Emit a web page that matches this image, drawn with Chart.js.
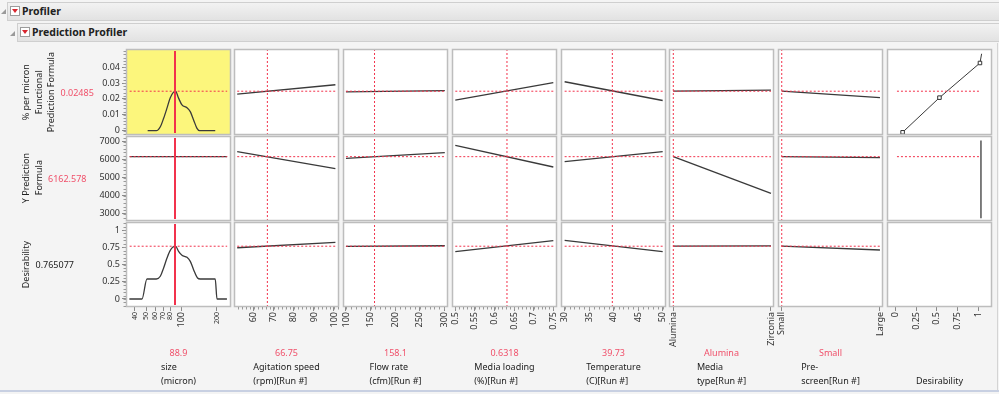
<!DOCTYPE html>
<html>
<head>
<meta charset="utf-8">
<script src="https://cdn.jsdelivr.net/npm/chart.js@4.4.1/dist/chart.umd.min.js"></script>
<style>
  body { margin: 0; width: 999px; height: 394px; background: #f4f4f4; position: relative; overflow: hidden;
         font-family: "Noto Sans", "DejaVu Sans", sans-serif; font-size: 9px; color: #222; }
  .bar { position: absolute; right: 0; height: 17px; background: linear-gradient(#f2f2f2, #e2e2e2);
         border: 1px solid #cfcfcf; border-right: none; font-weight: bold; font-size: 10.5px; line-height: 17px; }
  .tri { position: absolute; width: 0; height: 0; border-left: 5px solid transparent; border-bottom: 5px solid #9a9a9a; }
  .dd { position: absolute; width: 8px; height: 8px; background: #fff; border: 1px solid #9c9c9c; }
  .dd::after { content: ""; position: absolute; left: 1px; top: 2px; border-left: 3px solid transparent;
               border-right: 3px solid transparent; border-top: 4px solid #d8262f; }
  canvas { position: absolute; }
  .rowlab { position: absolute; left: 20px; display: flex; align-items: center; }
  .rowlab .names { writing-mode: vertical-rl; transform: rotate(180deg); text-align: center; line-height: 12.5px; white-space: nowrap; }
  .rowlab .val { margin-left: 3px; }
  .collab { position: absolute; top: 346px; text-align: center; line-height: 14px; }
  .collab .val { color: #f0506a; height: 14px; }
  .collab .names { display: inline-block; text-align: left; white-space: nowrap; }
  .red { color: #f0506a; }
  .frame { position: absolute; left: 0; right: 0; top: 390px; height: 2px; background: #c8d0e2; }
  .rframe { position: absolute; left: 997px; top: 43px; width: 1px; height: 347px; background: #d4d4d4; }
</style>
</head>
<body>
<div class="tri" style="left:1px;top:9px"></div>
<div class="bar" style="left:7px;top:2px"><span style="margin-left:14px">Profiler</span></div>
<div class="dd" style="left:10px;top:6px"></div>
<div class="tri" style="left:10px;top:31px"></div>
<div class="bar" style="left:17px;top:23px"><span style="margin-left:14px">Prediction Profiler</span></div>
<div class="dd" style="left:20px;top:27px"></div>
<div class="rframe"></div>
<div class="frame"></div>

<script>
// factors (columns)
const factorNames = [['size', '(micron)'], ['Agitation speed', '(rpm)[Run #]'], ['Flow rate', '(cfm)[Run #]'],
  ['Media loading', '(%)[Run #]'], ['Temperature', '(C)[Run #]'], ['Media', 'type[Run #]'],
  ['Pre-', 'screen[Run #]'], ['', 'Desirability']];
const factorCurrentText = ['88.9', '66.75', '158.1', '0.6318', '39.73', 'Alumina', 'Small', ''];
const factorCurrent = [88.9, 66.75, 158.1, 0.6318, 39.73, 0, 0];
const factorSpan = [[36.3, 244], [51.7, 100.7], [100, 301], [0.5, 0.75], [30, 50], [0, 1], [0, 1]];
const xMin = [33.8, 50.1, 94, 0.4916, 29.26, -0.044, -0.038, -0.1];
const xMax = [263, 102.5, 307.5, 0.7594, 50.68, 1.031, 1.031, 1.165];
const xTicks = [[40, 50, 60, 70, 80, 100, 200], [60, 70, 80, 90, 100], [100, 150, 200, 250, 300],
  [0.5, 0.55, 0.6, 0.65, 0.7, 0.75], [30, 35, 40, 45, 50], [0, 1], [0, 1], [0, 0.25, 0.5, 0.75, 1]];
const xTickLabels = [['40', '50', '60', '70', '80', '100', '200'], ['60', '70', '80', '90', '100'],
  ['100', '150', '200', '250', '300'], ['0.5', '0.55', '0.6', '0.65', '0.7', '0.75'],
  ['30', '35', '40', '45', '50'], ['Alumina', 'Zirconia'], ['Small', 'Large'], ['0', '0.25', '0.5', '0.75', '1']];

// responses (rows)
const responseNames = [['% per micron', 'Functional', 'Prediction Formula'], ['Y Prediction', 'Formula'], ['Desirability']];
const responseCurrentText = ['0.02485', '6162.578', '0.765077'];
const responseCurrent = [0.02485, 6162.578, 0.765077];
const yMin = [-0.0027, 2608, -0.116];
const yMax = [0.0514, 7304, 1.116];
const yTicks = [[0, 0.01, 0.02, 0.03, 0.04], [3000, 4000, 5000, 6000, 7000], [0, 0.25, 0.5, 0.75, 1]];
const yTickLabels = [['0', '0.01', '0.02', '0.03', '0.04'], ['3000', '4000', '5000', '6000', '7000'], ['0', '0.25', '0.5', '0.75', '1']];

// size profiles
const sizePct = [51.6, 61.1, 66.1, 70.5, 75.3, 80.3, 88.9, 94.4, 100.9, 111.3, 118.7, 126.6, 135.3, 142.3, 193.3];
const pctPerMicron = [0, 0, 0.0025, 0.0078, 0.0142, 0.0208, 0.02485, 0.0205, 0.0162, 0.0145, 0.012, 0.0068, 0.0015, 0, 0];
const sizeDes = [36.1, 46.2, 50.9, 61.1, 66.1, 70.5, 75.3, 80.3, 88.9, 94.4, 100.9, 111.3, 118.7, 126.6, 136.8, 144.2, 193.3, 200, 243];
const sizeDesirability = [0, 0, 0.29, 0.29, 0.33, 0.45, 0.594, 0.706, 0.765, 0.69, 0.633, 0.604, 0.546, 0.425, 0.304, 0.29, 0.29, 0, 0];

// linear profiles, columns 2..7, value at start and end of factor span
const pctEnds = [[0.023, 0.0289], [0.02445, 0.02527], [0.0192, 0.0303], [0.0308, 0.019], [0.0249, 0.0255], [0.0249, 0.0208]];
const yPredEnds = [[6436, 5497], [6072, 6381], [6790, 5591], [5884, 6436], [6162, 4138], [6162, 6110]];
const desirEnds = [[0.743, 0.821], [0.763, 0.772], [0.686, 0.845], [0.851, 0.686], [0.765, 0.77], [0.765, 0.71]];

// desirability column
const desPctX = [0.088, 0.532, 1.02, 1.04];
const desPctY = [-0.001, 0.0208, 0.0426, 0.0484];
const desYPredX = [1.032, 1.032];
const desYPredY = [2760, 7050];
const desRefSpan = [0.02, 1.032];

const FONT = '"Noto Sans", "DejaVu Sans", sans-serif';
const RED = '#f2324c';
const INK = '#3a3a3a';
const colLeft = [126, 234, 343, 452, 561, 669, 778, 887];
const colW = 105;
const rowTop = [49, 136, 222];
const rowH = [86, 85, 85];

function pts(xs, ys) { return xs.map((x, i) => ({ x: x, y: ys[i] })); }

const panelPlugin = {
  id: 'panel',
  beforeDraw(chart, args, opts) {
    const a = chart.chartArea, ctx = chart.ctx;
    ctx.save();
    ctx.fillStyle = opts.bg;
    ctx.fillRect(a.left, a.top, a.right - a.left, a.bottom - a.top);
    ctx.restore();
  },
  afterDatasetsDraw(chart, args, opts) {
    // solid crosshair for the selected factor
    if (opts.solidX == null) return;
    const a = chart.chartArea, ctx = chart.ctx;
    const px = Math.round(chart.scales.x.getPixelForValue(opts.solidX));
    ctx.save();
    ctx.strokeStyle = RED;
    ctx.lineWidth = 2;
    ctx.beginPath();
    ctx.moveTo(px, a.top + 2);
    ctx.lineTo(px, a.bottom - 2);
    ctx.stroke();
    ctx.restore();
  },
  afterDraw(chart) {
    const a = chart.chartArea, ctx = chart.ctx;
    ctx.save();
    ctx.strokeStyle = '#bdbdbd';
    ctx.lineWidth = 1.5;
    ctx.strokeRect(a.left + 0.5, a.top + 0.5, a.right - a.left - 1, a.bottom - a.top - 1);
    // minor ticks
    ctx.strokeStyle = '#9a9a9a';
    ctx.lineWidth = 1;
    Object.values(chart.scales).forEach(s => {
      if (!s.options.display || !s.options.minor) return;
      const t = s.ticks.map(k => k.value);
      const step = (t[1] - t[0]) / s.options.minor;
      for (let v = t[0] - step * Math.floor((t[0] - s.min) / step); v <= s.max; v += step) {
        const p = Math.round(s.getPixelForValue(v)) + 0.5;
        ctx.beginPath();
        if (s.isHorizontal()) { ctx.moveTo(p, a.bottom); ctx.lineTo(p, a.bottom + 2.5); }
        else { ctx.moveTo(a.left, p); ctx.lineTo(a.left - 2.5, p); }
        ctx.stroke();
      }
    });
    ctx.restore();
  }
};

function datasetsFor(r, c) {
  const ds = [];
  const curve = { borderColor: INK, borderWidth: 1.3, pointRadius: 0, showLine: true };
  if (c > 0 && c < 7) {
    ds.push({ data: pts([factorCurrent[c], factorCurrent[c]], [yMin[r], yMax[r]]), borderColor: RED,
      borderWidth: 1, borderDash: [2, 2], pointRadius: 0, showLine: true });
  }
  if (c < 7) {
    ds.push({ data: pts(factorSpan[c], [responseCurrent[r], responseCurrent[r]]), borderColor: RED,
      borderWidth: 1, borderDash: [2, 2], pointRadius: 0, showLine: true });
  } else if (r < 2) {
    ds.push({ data: pts(desRefSpan, [responseCurrent[r], responseCurrent[r]]), borderColor: RED,
      borderWidth: 1, borderDash: [2, 2], pointRadius: 0, showLine: true });
  }
  if (c === 0) {
    if (r === 0) ds.push(Object.assign({ data: pts(sizePct, pctPerMicron), cubicInterpolationMode: 'monotone' }, curve));
    if (r === 1) ds.push(Object.assign({ data: pts(factorSpan[0], [responseCurrent[1], responseCurrent[1]]) }, curve));
    if (r === 2) ds.push(Object.assign({ data: pts(sizeDes, sizeDesirability), cubicInterpolationMode: 'monotone' }, curve));
  } else if (c < 7) {
    const ends = [pctEnds, yPredEnds, desirEnds][r][c - 1];
    ds.push(Object.assign({ data: pts(factorSpan[c], ends) }, curve));
  } else {
    if (r === 0) ds.push(Object.assign({}, curve, {
      data: pts(desPctX, desPctY), borderWidth: 1, pointStyle: 'rect', pointRadius: [2.5, 2.5, 2.5, 0],
      pointBackgroundColor: '#fff', pointBorderColor: '#333', pointBorderWidth: 1 }));
    if (r === 1) ds.push(Object.assign({ data: pts(desYPredX, desYPredY) }, curve));
  }
  return ds;
}

function makePanel(r, c) {
  const extL = c === 0 ? 42 : 6, extR = 6, extT = 8, extB = r === 2 ? 62 : 8;
  const cv = document.createElement('canvas');
  cv.width = colW + extL + extR;
  cv.height = rowH[r] + extT + extB;
  cv.style.left = (colLeft[c] - extL) + 'px';
  cv.style.top = (rowTop[r] - extT) + 'px';
  document.body.appendChild(cv);

  new Chart(cv, {
    type: 'scatter',
    data: { datasets: datasetsFor(r, c) },
    options: {
      responsive: false, animation: false, events: [], devicePixelRatio: 1,
      layout: { padding: { left: c === 0 ? 0 : extL, right: extR, top: extT, bottom: r === 2 ? 0 : extB } },
      plugins: { legend: { display: false }, tooltip: { enabled: false },
        panel: { bg: (r === 0 && c === 0) ? '#fcf67c' : '#ffffff', solidX: c === 0 ? factorCurrent[0] : null } },
      scales: {
        x: {
          type: c === 0 ? 'logarithmic' : 'linear', min: xMin[c], max: xMax[c], display: r === 2,
          minor: (c >= 1 && c <= 4) ? 5 : 0,
          afterBuildTicks: s => { s.ticks = xTicks[c].map(v => ({ value: v })); },
          afterFit: s => { s.height = r === 2 ? 62 : 0; s.paddingLeft = 0; s.paddingRight = 0; },
          border: { display: false },
          grid: { drawOnChartArea: false, tickLength: 4, color: '#8a8a8a' },
          ticks: {
            autoSkip: false, minRotation: 90, maxRotation: 90, padding: 1, color: '#333',
            font: ctx => ({ family: FONT, size: (c === 0 && ctx.tick && ctx.tick.value !== 100) ? 7 : 9 }),
            callback: (v, i) => xTickLabels[c][i]
          }
        },
        y: {
          min: yMin[r], max: yMax[r], display: c === 0, minor: 5,
          afterBuildTicks: s => { s.ticks = yTicks[r].map(v => ({ value: v })); },
          afterFit: s => { s.width = c === 0 ? 42 : 0; s.paddingTop = 0; s.paddingBottom = 0; },
          border: { display: false },
          grid: { drawOnChartArea: false, tickLength: 4, color: '#8a8a8a' },
          ticks: { padding: 2, color: '#333', font: { family: FONT, size: 9 }, callback: (v, i) => yTickLabels[r][i] }
        }
      }
    },
    plugins: [panelPlugin]
  });
}

for (let r = 0; r < 3; r++) for (let c = 0; c < 8; c++) makePanel(r, c);

// row labels on the left
responseNames.forEach((names, r) => {
  const d = document.createElement('div');
  d.className = 'rowlab';
  d.style.top = rowTop[r] + 'px';
  d.style.height = rowH[r] + 'px';
  const n = document.createElement('div');
  n.className = 'names';
  n.innerHTML = names.join('<br>');
  const v = document.createElement('div');
  v.className = 'val' + (r < 2 ? ' red' : '');
  v.textContent = responseCurrentText[r];
  d.appendChild(n); d.appendChild(v);
  document.body.appendChild(d);
});

// factor labels below
factorNames.forEach((names, c) => {
  const d = document.createElement('div');
  d.className = 'collab';
  d.style.left = colLeft[c] + 'px';
  d.style.width = colW + 'px';
  const v = document.createElement('div');
  v.className = 'val';
  v.textContent = factorCurrentText[c];
  const n = document.createElement('div');
  n.className = 'names';
  n.innerHTML = names[0] === '' ? '&nbsp;<br>' + names[1] : names.join('<br>');
  d.appendChild(v); d.appendChild(n);
  document.body.appendChild(d);
});
</script>
</body>
</html>
